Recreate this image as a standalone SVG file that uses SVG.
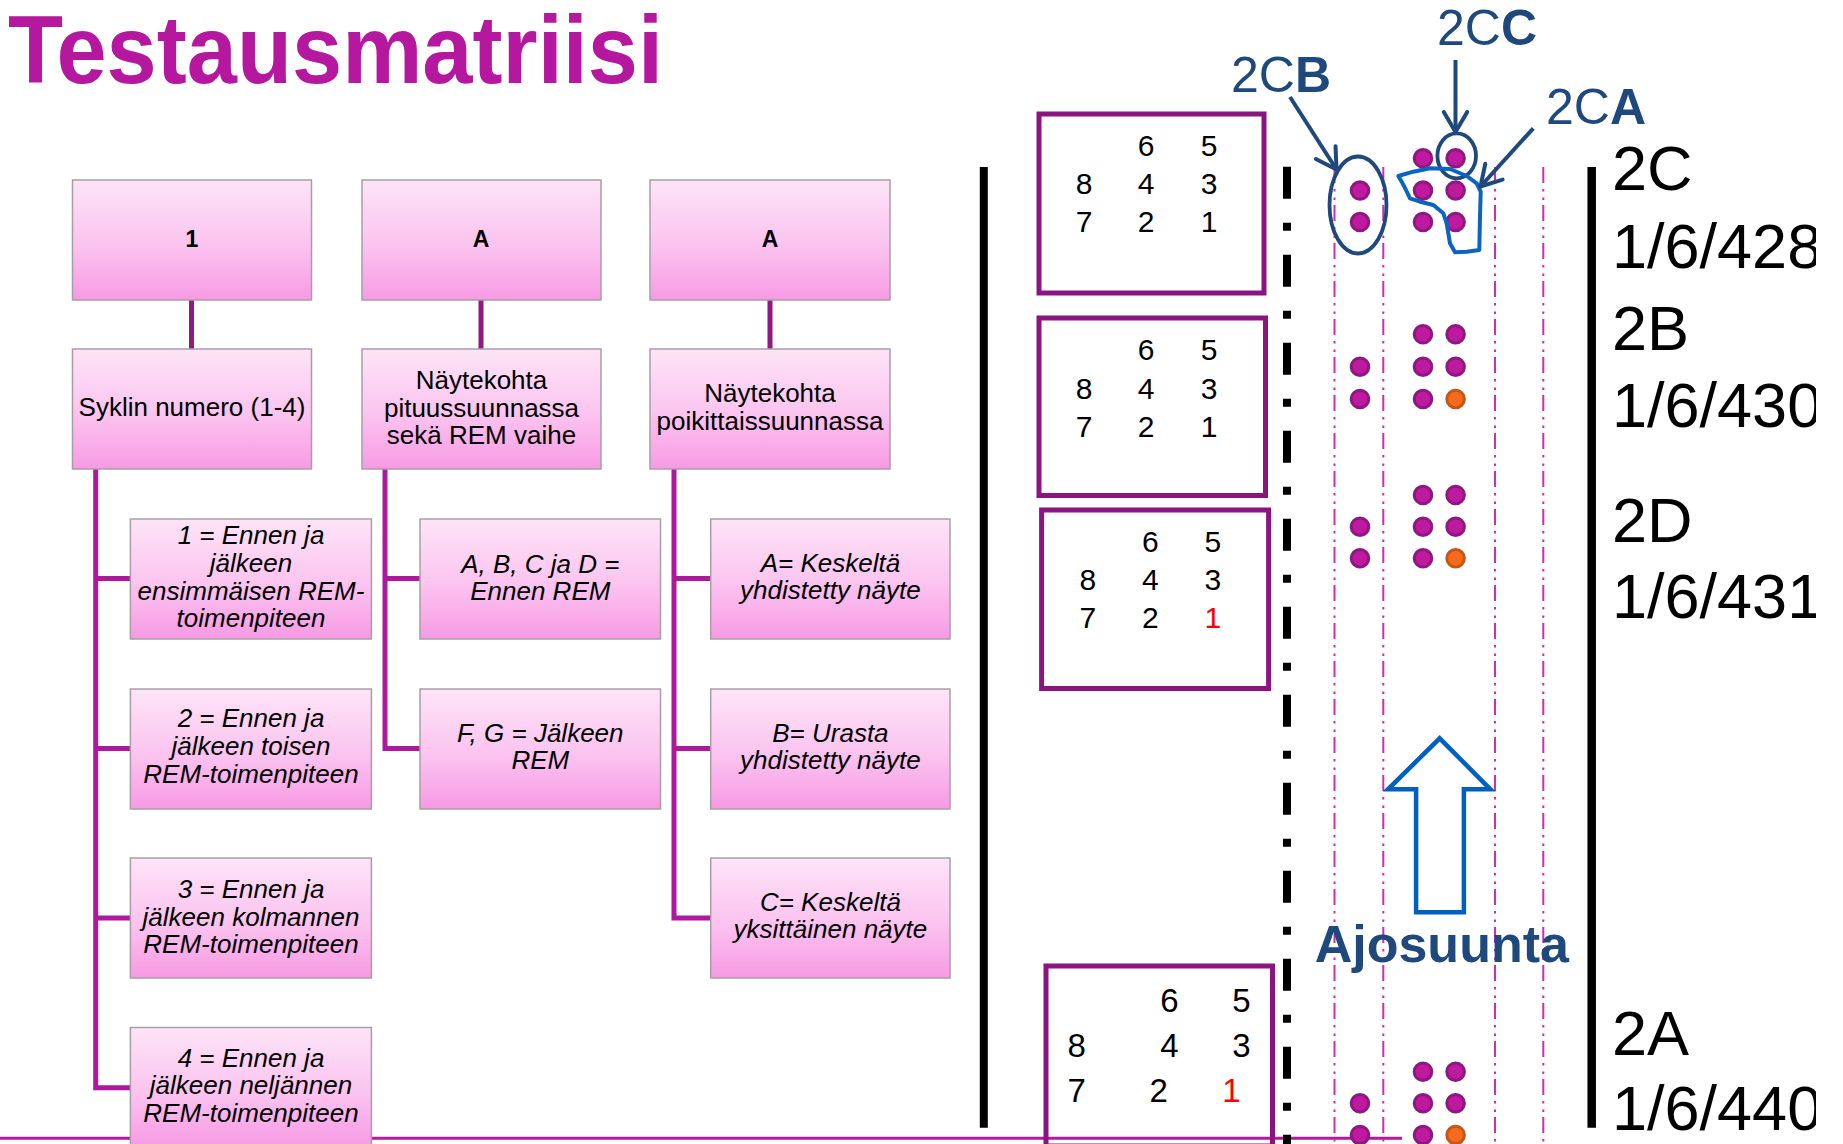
<svg xmlns="http://www.w3.org/2000/svg" width="1843" height="1144" viewBox="0 0 1843 1144">
<defs>
<linearGradient id="pk" x1="0" y1="0" x2="0" y2="1">
<stop offset="0" stop-color="#FDE4F7"/>
<stop offset="0.55" stop-color="#FBC3EF"/>
<stop offset="1" stop-color="#F79AE4"/>
</linearGradient>
<clipPath id="rc"><rect x="0" y="0" width="1816" height="1144"/></clipPath>
<marker id="ah" markerUnits="userSpaceOnUse" viewBox="-24 -15 28 30" refX="0" refY="0" markerWidth="28" markerHeight="30" orient="auto" overflow="visible">
<path d="M-20,-11.7 L0,0 L-20,11.7" fill="none" stroke="#1F497D" stroke-width="4" stroke-linecap="round" stroke-linejoin="round"/>
</marker>
<style>
.bx{fill:url(#pk);stroke:#A89EA6;stroke-width:1.5}
.t{font-family:"Liberation Sans",Arial,sans-serif;fill:#000;text-anchor:middle}
.hd{font-size:23px;font-weight:bold}
.rg{font-size:26px}
.it{font-size:26px;font-style:italic}
.stem{stroke:#8E1A82;stroke-width:5;fill:none}
.br{stroke:#AE189C;stroke-width:5;fill:none;stroke-linejoin:miter}
.sb{fill:none;stroke:#8B1580;stroke-width:5}
.n{font-family:"Liberation Sans",Arial,sans-serif;font-size:30px;text-anchor:middle;fill:#000}
.n2{font-size:33px}
.red{fill:#FF0000}
.d{fill:#C0189F;stroke:#8A1A80;stroke-width:3}
.o{fill:#F56A1C;stroke:#C4561A;stroke-width:3}
.lane{stroke:#CC2DB8;stroke-width:2;stroke-dasharray:16 6 2.5 6 2.5 5}
.lbl{font-family:"Liberation Sans",Arial,sans-serif;font-size:63px;fill:#000}
.bl{font-family:"Liberation Sans",Arial,sans-serif;font-size:50px;fill:#1F497D}
.nav{stroke:#1F497D;stroke-width:4;fill:none;marker-end:url(#ah)}
</style>
</defs>
<rect width="1843" height="1144" fill="#FFFFFF"/>

<text x="8" y="83" font-family="'Liberation Sans',Arial,sans-serif" font-weight="bold" font-size="96" fill="#B5179E" textLength="655" lengthAdjust="spacingAndGlyphs">Testausmatriisi</text>

<!-- bottom magenta line -->
<line x1="0" y1="1138.3" x2="1402" y2="1138.3" stroke="#B5179E" stroke-width="3"/>

<g id="connectors">
<line class="stem" x1="191.5" y1="300" x2="191.5" y2="349"/>
<line class="stem" x1="481" y1="300" x2="481" y2="349"/>
<line class="stem" x1="770" y1="300" x2="770" y2="349"/>
<path class="br" d="M95.7,469 V1087.7 H130.4 M95.7,578.5 H130.4 M95.7,748.5 H130.4 M95.7,918 H130.4"/>
<path class="br" d="M385,469 V748.5 H420 M385,578.5 H420"/>
<path class="br" d="M674,469 V918 H710.7 M674,578.5 H710.7 M674,748.5 H710.7"/>
</g>

<g id="n-cycle-top"><rect class="bx" x="72.5" y="180" width="239" height="120"/><text class="t hd" x="192" y="247">1</text></g>
<g id="n-long-top"><rect class="bx" x="362" y="180" width="239" height="120"/><text class="t hd" x="481" y="247">A</text></g>
<g id="n-trans-top"><rect class="bx" x="650" y="180" width="240" height="120"/><text class="t hd" x="770" y="247">A</text></g>

<g id="n-cycle"><rect class="bx" x="72.5" y="349" width="239" height="120"/><text class="t rg" x="192" y="416">Syklin numero (1-4)</text></g>
<g id="n-long"><rect class="bx" x="362" y="349" width="239" height="120"/><text class="t rg" x="481.5"><tspan x="481.5" y="389">Näytekohta</tspan><tspan x="481.5" y="416.5">pituussuunnassa</tspan><tspan x="481.5" y="444">sekä REM vaihe</tspan></text></g>
<g id="n-trans"><rect class="bx" x="650" y="349" width="240" height="120"/><text class="t rg" x="770"><tspan x="770" y="401.5">Näytekohta</tspan><tspan x="770" y="430">poikittaissuunnassa</tspan></text></g>

<g id="n-c1"><rect class="bx" x="130.4" y="519" width="241" height="120"/><text class="t it"><tspan x="251" y="544">1 = Ennen ja</tspan><tspan x="251" y="572">jälkeen</tspan><tspan x="251" y="600">ensimmäisen REM-</tspan><tspan x="251" y="627">toimenpiteen</tspan></text></g>
<g id="n-c2"><rect class="bx" x="130.4" y="689" width="241" height="120"/><text class="t it"><tspan x="251" y="727">2 = Ennen ja</tspan><tspan x="251" y="755">jälkeen toisen</tspan><tspan x="251" y="783">REM-toimenpiteen</tspan></text></g>
<g id="n-c3"><rect class="bx" x="130.4" y="858" width="241" height="120"/><text class="t it"><tspan x="251" y="897.5">3 = Ennen ja</tspan><tspan x="251" y="925.5">jälkeen kolmannen</tspan><tspan x="251" y="953">REM-toimenpiteen</tspan></text></g>
<g id="n-c4"><rect class="bx" x="130.4" y="1027.5" width="241" height="120"/><text class="t it"><tspan x="251" y="1066.5">4 = Ennen ja</tspan><tspan x="251" y="1094">jälkeen neljännen</tspan><tspan x="251" y="1121.5">REM-toimenpiteen</tspan></text></g>

<g id="n-l1"><rect class="bx" x="420" y="519" width="240.5" height="120"/><text class="t it"><tspan x="540.3" y="572.5">A, B, C ja D =</tspan><tspan x="540.3" y="599.5">Ennen REM</tspan></text></g>
<g id="n-l2"><rect class="bx" x="420" y="689" width="240.5" height="120"/><text class="t it"><tspan x="540.3" y="741.5">F, G = Jälkeen</tspan><tspan x="540.3" y="768.5">REM</tspan></text></g>

<g id="n-t1"><rect class="bx" x="710.7" y="519" width="239.3" height="120"/><text class="t it"><tspan x="830.4" y="571.5">A= Keskeltä</tspan><tspan x="830.4" y="599">yhdistetty näyte</tspan></text></g>
<g id="n-t2"><rect class="bx" x="710.7" y="689" width="239.3" height="120"/><text class="t it"><tspan x="830.4" y="741.5">B= Urasta</tspan><tspan x="830.4" y="768.5">yhdistetty näyte</tspan></text></g>
<g id="n-t3"><rect class="bx" x="710.7" y="858" width="239.3" height="120"/><text class="t it"><tspan x="830.4" y="910.5">C= Keskeltä</tspan><tspan x="830.4" y="938.3">yksittäinen näyte</tspan></text></g>

<!-- road plan -->
<g id="road">
<line x1="983.8" y1="167" x2="983.8" y2="1127.7" stroke="#000" stroke-width="8"/>
<line x1="1591.7" y1="167" x2="1591.7" y2="1127.7" stroke="#000" stroke-width="8.5"/>
<line x1="1287" y1="166.7" x2="1287" y2="1144" stroke="#000" stroke-width="8" stroke-dasharray="32 24 8 24"/>
<line class="lane" x1="1334.5" y1="167" x2="1334.5" y2="1144"/>
<line class="lane" x1="1383.3" y1="167" x2="1383.3" y2="1144"/>
<line class="lane" x1="1495" y1="167" x2="1495" y2="1144"/>
<line class="lane" x1="1543.3" y1="167" x2="1543.3" y2="1144"/>
</g>

<g id="s-2C">
<rect class="sb" x="1039" y="114" width="225" height="179"/>
<text class="n"><tspan x="1146" y="156">6</tspan><tspan x="1209" y="156">5</tspan><tspan x="1084" y="194">8</tspan><tspan x="1146" y="194">4</tspan><tspan x="1209" y="194">3</tspan><tspan x="1084" y="232">7</tspan><tspan x="1146" y="232">2</tspan><tspan x="1209" y="232">1</tspan></text>
</g>
<g id="s-2B">
<rect class="sb" x="1039" y="318" width="226.5" height="177.5"/>
<text class="n"><tspan x="1146" y="360">6</tspan><tspan x="1209" y="360">5</tspan><tspan x="1084" y="399">8</tspan><tspan x="1146" y="399">4</tspan><tspan x="1209" y="399">3</tspan><tspan x="1084" y="437">7</tspan><tspan x="1146" y="437">2</tspan><tspan x="1209" y="437">1</tspan></text>
</g>
<g id="s-2D">
<rect class="sb" x="1041.6" y="510" width="227" height="178.5"/>
<text class="n"><tspan x="1150.3" y="551.7">6</tspan><tspan x="1212.8" y="551.7">5</tspan><tspan x="1087.8" y="590">8</tspan><tspan x="1150.3" y="590">4</tspan><tspan x="1212.8" y="590">3</tspan><tspan x="1087.8" y="628.3">7</tspan><tspan x="1150.3" y="628.3">2</tspan></text>
<text class="n red" x="1212.8" y="628.3">1</text>
</g>
<g id="s-2A">
<rect class="sb" x="1046" y="966" width="226.5" height="180"/>
<text class="n n2"><tspan x="1169.5" y="1011.7">6</tspan><tspan x="1241.5" y="1011.7">5</tspan><tspan x="1076.6" y="1056.7">8</tspan><tspan x="1169.5" y="1056.7">4</tspan><tspan x="1241.5" y="1056.7">3</tspan><tspan x="1076.6" y="1101.7">7</tspan><tspan x="1158.8" y="1101.7">2</tspan></text>
<text class="n n2 red" x="1231.4" y="1101.7">1</text>
</g>

<g id="dots">
<circle class="d" cx="1360" cy="190.5" r="8.8"/><circle class="d" cx="1360" cy="222" r="8.8"/>
<circle class="d" cx="1423" cy="158.3" r="8.8"/><circle class="d" cx="1455.6" cy="158.3" r="8.8"/>
<circle class="d" cx="1423" cy="190.5" r="8.8"/><circle class="d" cx="1455.6" cy="190.5" r="8.8"/>
<circle class="d" cx="1423" cy="222" r="8.8"/><circle class="d" cx="1455.6" cy="222" r="8.8"/>

<circle class="d" cx="1360" cy="366.7" r="8.8"/><circle class="d" cx="1360" cy="399" r="8.8"/>
<circle class="d" cx="1423" cy="334.3" r="8.8"/><circle class="d" cx="1455.6" cy="334.3" r="8.8"/>
<circle class="d" cx="1423" cy="366.7" r="8.8"/><circle class="d" cx="1455.6" cy="366.7" r="8.8"/>
<circle class="d" cx="1423" cy="399" r="8.8"/><circle class="o" cx="1455.6" cy="399" r="8.8"/>

<circle class="d" cx="1360" cy="526.7" r="8.8"/><circle class="d" cx="1360" cy="558.3" r="8.8"/>
<circle class="d" cx="1423" cy="495" r="8.8"/><circle class="d" cx="1455.6" cy="495" r="8.8"/>
<circle class="d" cx="1423" cy="526.7" r="8.8"/><circle class="d" cx="1455.6" cy="526.7" r="8.8"/>
<circle class="d" cx="1423" cy="558.3" r="8.8"/><circle class="o" cx="1455.6" cy="558.3" r="8.8"/>

<circle class="d" cx="1360" cy="1103.3" r="8.8"/><circle class="d" cx="1360" cy="1135" r="8.8"/>
<circle class="d" cx="1423" cy="1071.7" r="8.8"/><circle class="d" cx="1455.6" cy="1071.7" r="8.8"/>
<circle class="d" cx="1423" cy="1103.3" r="8.8"/><circle class="d" cx="1455.6" cy="1103.3" r="8.8"/>
<circle class="d" cx="1423" cy="1135" r="8.8"/><circle class="o" cx="1455.6" cy="1135" r="8.8"/>
</g>

<g id="marks">
<ellipse cx="1358" cy="205" rx="28.5" ry="48.5" fill="none" stroke="#1F497D" stroke-width="3.8"/>
<ellipse cx="1456.7" cy="155.8" rx="19.3" ry="22.5" fill="none" stroke="#1F497D" stroke-width="3.8"/>
<path d="M1398.3,176 L1413.3,171.7 L1430,168.3 L1450,169 L1466.7,176 L1476.7,183.3 L1480.7,191.7 L1480,216.7 L1479.3,250 L1466.7,251.7 L1455,252.3 L1450,243.3 L1446.7,223.3 L1443.3,213.3 L1433.3,205 L1420,201.7 L1410,198.3 L1406,190 L1401.7,181.7 Z" fill="none" stroke="#0A64C0" stroke-width="4" stroke-linejoin="round"/>
</g>

<g id="labels-top">
<line class="nav" x1="1290" y1="97" x2="1336.5" y2="169.5"/>
<line class="nav" x1="1455.5" y1="60" x2="1455.5" y2="132"/>
<line class="nav" x1="1533.3" y1="128.3" x2="1480.5" y2="186.5"/>
<text class="bl" x="1231" y="92">2C<tspan font-weight="bold">B</tspan></text>
<text class="bl" x="1437" y="45">2C<tspan font-weight="bold">C</tspan></text>
<text class="bl" x="1546" y="124">2C<tspan font-weight="bold">A</tspan></text>
</g>

<g id="direction">
<polygon points="1439.7,738.3 1490.4,789.3 1463.9,789.3 1463.9,912.3 1416.1,912.3 1416.1,789.3 1388,789.3" fill="#FFFFFF" stroke="#0060C0" stroke-width="4.5"/>
<text x="1314.7" y="961.7" font-family="'Liberation Sans',Arial,sans-serif" font-weight="bold" font-size="52" fill="#1F497D">Ajosuunta</text>
</g>

<g id="sections" clip-path="url(#rc)">
<text class="lbl" x="1612" y="190">2C</text>
<text class="lbl" x="1612" y="267.5">1/6/428</text>
<text class="lbl" x="1612" y="350">2B</text>
<text class="lbl" x="1612" y="426.7">1/6/430</text>
<text class="lbl" x="1612" y="541.7">2D</text>
<text class="lbl" x="1612" y="618.3">1/6/431</text>
<text class="lbl" x="1612" y="1055">2A</text>
<text class="lbl" x="1612" y="1130">1/6/440</text>
</g>
</svg>
